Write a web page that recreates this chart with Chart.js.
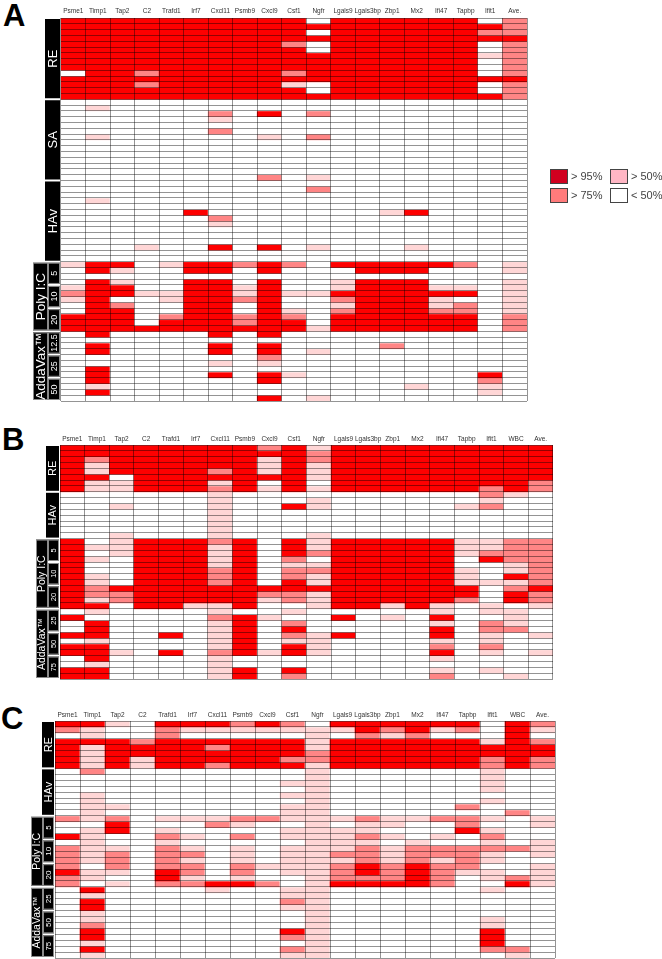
<!DOCTYPE html>
<html>
<head>
<meta charset="utf-8">
<title>Heatmaps</title>
<script src="https://cdn.jsdelivr.net/npm/chart.js@4"></script>
<style>
  html, body { margin: 0; padding: 0; background: #fff; }
  body { position: relative; width: 662px; height: 959px; overflow: hidden; font-family: "Liberation Sans", Arial, sans-serif; }
  canvas { position: absolute; left: 0; }
  .letter { position: absolute; font-weight: bold; font-size: 31px; line-height: 31px; color: #000; }
  .key { position: absolute; width: 16px; height: 13px; border: 1.5px solid #444; }
  .keytext { position: absolute; font-size: 11px; line-height: 14px; color: #444; white-space: nowrap; }
</style>
</head>
<body>
<div class="letter" style="left:3px;top:0px">A</div>
<div class="letter" style="left:2px;top:424px">B</div>
<div class="letter" style="left:1px;top:703px">C</div>

<canvas id="heatA" width="662" height="410" style="top:0"></canvas>
<canvas id="heatB" width="662" height="250" style="top:435px"></canvas>
<canvas id="heatC" width="662" height="259" style="top:700px"></canvas>

<div id="legend"></div>

<script>
const genesA = ['Psme1','Timp1','Tap2','C2','Trafd1','Irf7','Cxcl11','Psmb9','Cxcl9','Csf1','Ngfr','Lgals9','Lgals3bp','Zbp1','Mx2','Ifi47','Tapbp','Ifit1','Ave.'];
const genesBC = ['Psme1','Timp1','Tap2','C2','Trafd1','Irf7','Cxcl11','Psmb9','Cxcl9','Csf1','Ngfr','Lgals9','Lgals3bp','Zbp1','Mx2','Ifi47','Tapbp','Ifit1','WBC','Ave.'];

// one string per gene, top row first: 0 <50%, 1 >50%, 2 >75%, 3 >95%
// spaces only split the groups of rows
const levelsA = [
  '33333333303333 00000000000000 00000000000000 100012100333 000000000000',
  '33333333333333 01000010000000 00010000000000 330333333333 303300333130',
  '33333333333333 00000000000000 00000000000000 310133023333 000000000000',
  '33333333323233 00000000000000 00000000000100 000001000003 000000000000',
  '33333333333333 00000000000000 00000000000000 100001100233 000000000000',
  '33333333333333 00000000000000 00000300000000 330333333333 000000000000',
  '33333333333333 00210200000000 00000021000300 330333333333 303301030000',
  '33333333333333 00000000000000 00000000000000 200011200223 000000000000',
  '33333333333333 00300010000002 00000000000300 330333333333 303321033003',
  '33332333323133 00000000000000 00000000000000 200001001233 000000010000',
  '03030033333003 00200020000001 02000000000100 000001000001 000100000001',
  '33333333333333 00000000000000 00000000000000 300113212333 000000000000',
  '33333333333333 00000000000000 00000000000000 330333333333 000000000000',
  '33333333333333 00000000000000 00000100000000 330333333333 002000000000',
  '33333333333333 00000000000000 00000300000100 330333333333 000000000100',
  '33333333333333 00000000000000 00000000000000 300013112333 000000000000',
  '33333333333333 00000000000000 00000000000000 200013022333 000000000000',
  '03230010003003 00000000000000 00000000000000 000000000000 000000032110',
  '22232222223222 00000000000000 00000000000000 110111111222 000000000000'
];

const levelsB = [
  '33333333 00000000 333333333333 030030330033',
  '33211311 00000000 010100112213 103331333133',
  '33333011 00100001 111000003220 000000010000',
  '33333333 00000000 333333333333 000000000000',
  '33333333 00000000 333333333333 000030030000',
  '33333333 00000000 333333333331 000000000000',
  '33332312 11111111 211112223331 121111121111',
  '33333333 00000000 333333333333 033333330033',
  '23111301 00000000 000000003210 010000010000',
  '33333333 00300000 333212233220 102321330032',
  '12211101 01100001 112012113111 000011110000',
  '33333333 00000000 333333333333 030030000000',
  '33333333 00000000 333333333333 000000000000',
  '33333333 00000000 333333333331 010000000000',
  '33333333 00000000 333333333333 000000000000',
  '33333333 00000000 333333333331 131331231012',
  '33333333 00100000 111001113320 000000000000',
  '33333332 21200000 112300010001 102211210010',
  '33333333 10000000 222211312330 111200000001',
  '33333322 00000000 222222223221 000010010000'
];

const levelsC = [
  '32033333 00000000 200302222322 000000000000',
  '31131111 20001111 101111110110 313311233131',
  '10033333 00000010 233001222101 000000000000',
  '00023311 00000000 000000000000 000000000000',
  '32233333 00000000 101212222332 000000000000',
  '31033333 00000000 100101212212 000000000000',
  '31032332 00000000 120000000003 100000000000',
  '21033333 00000000 210201112213 000000000000',
  '31033333 00000000 200000001002 000000000000',
  '21033323 00101011 101101111100 112100032021',
  '01111221 11111111 111111111111 111111111111',
  '31033333 00000000 101111212223 000000000000',
  '33233333 00000000 211212223323 000000000000',
  '32133333 00000000 110101112223 000000000000',
  '33233333 00000000 100012223333 000000000000',
  '31033333 00000000 200102212222 000000000000',
  '32033333 00000020 223002222100 000000000000',
  '00013322 11110100 101212110110 100001133320',
  '33333333 00000002 000002000023 000000000021',
  '21023322 00000000 110011101111 000000000000'
];

// [label, rows]
const groupsA = [['RE', 14], ['SA', 14], ['HAv', 14]];
const groupsBC = [['RE', 8], ['HAv', 8]];
const polyName = 'Poly I:C';
const addaName = 'AddaVax\u2122';
const polyDoses = ['5', '10', '20'];
const addaDosesA = ['12.5', '25', '50'];
const addaDosesBC = ['25', '50', '75'];
const dosesRows = 4;

const colors = ['#ffffff', '#ffd6d6', '#ff8585', '#fe0000'];
const legendLabels = ['> 95%', '> 50%', '> 75%', '< 50%'];
const legendColors = ['#d0001f', '#ffb6c4', '#ff7b7b', '#ffffff'];

function sideBlocks(groups, doses, side) {
  return {
    id: 'sideBlocks',
    afterDraw(chart) {
      const ctx = chart.ctx;
      const y = chart.scales.y;
      const left = chart.chartArea.left;

      function block(x, w, from, to, text, size, outline) {
        const top = y.getPixelForValue(from) + 1;
        const bottom = y.getPixelForValue(to) - 1;
        ctx.fillStyle = '#000';
        ctx.fillRect(x, top, w, bottom - top);
        if (outline) {
          ctx.strokeStyle = '#8a8a8a';
          ctx.lineWidth = 1;
          ctx.strokeRect(x + 0.5, top + 0.5, w - 1, bottom - top - 1);
        }
        ctx.save();
        ctx.translate(x + w / 2, (top + bottom) / 2);
        ctx.rotate(-Math.PI / 2);
        ctx.fillStyle = '#fff';
        ctx.font = size + 'px "Liberation Sans", Arial, sans-serif';
        ctx.textAlign = 'center';
        ctx.textBaseline = 'middle';
        ctx.fillText(text, 0, 0.5);
        ctx.restore();
      }

      let row = 0;
      groups.forEach(g => {
        block(left - side.plain, side.plain - 1, row, row + g[1], g[0], side.font, false);
        row += g[1];
      });

      doses.forEach(d => {
        const span = d.values.length * dosesRows;
        block(left - side.inner - 1 - side.outer, side.outer, row, row + span, d.name, side.outerFont, true);
        d.values.forEach((v, i) => {
          const from = row + i * dosesRows;
          block(left - side.inner - 1, side.inner, from, from + dosesRows, v, side.doseFont, true);
        });
        row += span;
      });
    }
  };
}

function drawHeat(id, genes, levels, groups, doses, box, side) {
  const columns = levels.map(s => s.replace(/ /g, ''));
  const rows = columns[0].length;
  const datasets = [];
  for (let r = 0; r < rows; r++) {
    datasets.push({
      data: genes.map(() => [r, r + 1]),
      backgroundColor: columns.map(c => colors[Number(c[r])]),
      borderWidth: 0,
      barPercentage: 1,
      categoryPercentage: 1,
      grouped: false
    });
  }

  new Chart(document.getElementById(id), {
    type: 'bar',
    data: { labels: genes, datasets: datasets },
    plugins: [sideBlocks(groups, doses, side)],
    options: {
      responsive: false,
      animation: false,
      events: [],
      layout: { padding: { left: box.left, right: 662 - box.right, top: 0, bottom: box.bottom } },
      plugins: { legend: { display: false }, tooltip: { enabled: false } },
      scales: {
        x: {
          position: 'top',
          offset: true,
          border: { display: false },
          grid: { color: 'rgba(0,0,0,0.42)', lineWidth: 1, z: 1, drawTicks: false, offset: true },
          ticks: {
            autoSkip: false,
            maxRotation: 0,
            padding: box.labelGap,
            color: '#333',
            font: { family: '"Liberation Sans", Arial, sans-serif', size: 6.5 }
          },
          afterFit(scale) { scale.height = box.top; }
        },
        y: {
          reverse: true,
          min: 0,
          max: rows,
          border: { display: false },
          grid: { color: 'rgba(0,0,0,0.42)', lineWidth: 1, z: 1, drawTicks: false },
          ticks: { display: false, stepSize: 1 },
          afterFit(scale) { scale.width = 0; }
        }
      }
    }
  });
}

drawHeat('heatA', genesA, levelsA, groupsA,
  [{ name: polyName, values: polyDoses }, { name: addaName, values: addaDosesA }],
  { left: 61, right: 527, top: 18, bottom: 9, labelGap: 3 },
  { plain: 16, outer: 15, inner: 12, font: 13, outerFont: 13.5, doseFont: 9 });

drawHeat('heatB', genesBC, levelsB, groupsBC,
  [{ name: polyName, values: polyDoses }, { name: addaName, values: addaDosesBC }],
  { left: 60, right: 553, top: 10, bottom: 6, labelGap: 2 },
  { plain: 14, outer: 12, inner: 11, font: 11, outerFont: 10.5, doseFont: 7.5 });

drawHeat('heatC', genesBC, levelsC, groupsBC,
  [{ name: polyName, values: polyDoses }, { name: addaName, values: addaDosesBC }],
  { left: 55, right: 555, top: 21, bottom: 1, labelGap: 2 },
  { plain: 13, outer: 12, inner: 11, font: 11, outerFont: 10.5, doseFont: 8 });

// legend keys, same 2x2 order as the figure
function drawLegend() {
  const holder = document.getElementById('legend');
  const slots = [[550, 169], [610, 169], [550, 188], [610, 188]];
  legendLabels.forEach((text, i) => {
    const key = document.createElement('div');
    key.className = 'key';
    key.style.left = slots[i][0] + 'px';
    key.style.top = slots[i][1] + 'px';
    key.style.background = legendColors[i];
    holder.appendChild(key);

    const label = document.createElement('div');
    label.className = 'keytext';
    label.style.left = (slots[i][0] + 21) + 'px';
    label.style.top = (slots[i][1] + 0) + 'px';
    label.textContent = text;
    holder.appendChild(label);
  });
}
drawLegend();
</script>
</body>
</html>
